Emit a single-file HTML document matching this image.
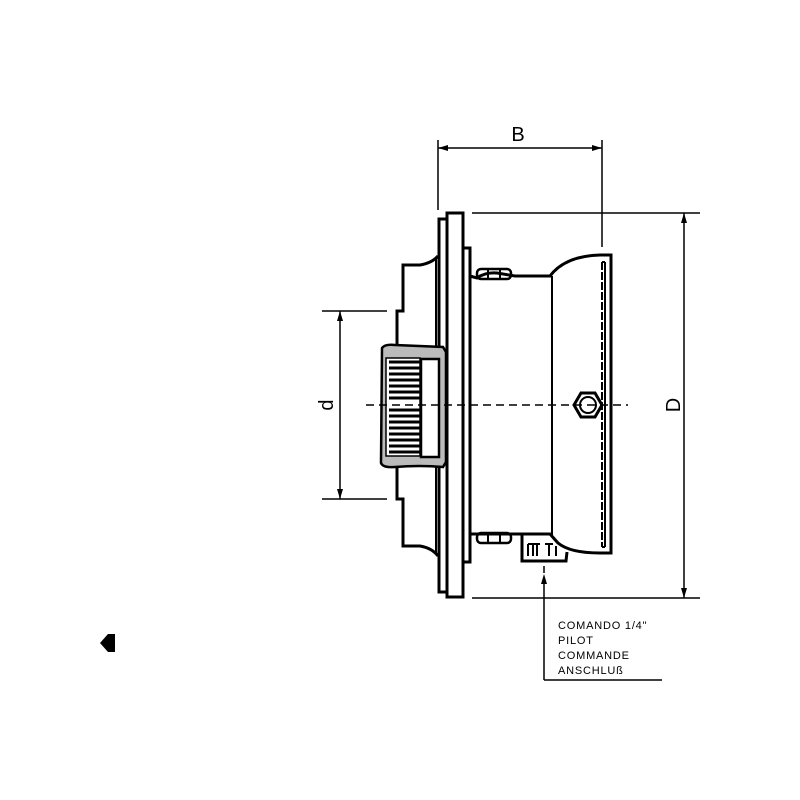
<!DOCTYPE html>
<html><head><style>html,body{margin:0;padding:0;background:#fff}svg{display:block}</style></head>
<body>
<svg width="800" height="800" viewBox="0 0 800 800" xmlns="http://www.w3.org/2000/svg" font-family="Liberation Sans, sans-serif">
<g fill="none" stroke="#000" stroke-width="3">
<rect x="447" y="213" width="16" height="384" fill="#fff"/>
<path d="M446 219 H439 V592 H446"/>
<path d="M463 248 H470 V562 H463"/>
<path d="M438 256 Q432 263 420 265 H403 V311 H397 V345"/>
<path d="M438 556 Q432 548 420 546 H403 V499 H397 V467"/>
<line x1="436" y1="258" x2="436" y2="553" stroke-width="2"/>
<path d="M470 276 L477 278 Q485 272 497 273 L515 276 L550 276 Q565 256 600 255 H611 V553 H600 Q570 553 558 543 L550 534 L520 534 L470 534" />
<line x1="552" y1="276" x2="552" y2="535" stroke-width="2"/>
<line x1="602" y1="262" x2="602" y2="547" stroke-width="2" stroke-dasharray="8 2"/>
<line x1="605" y1="262" x2="605" y2="547" stroke-width="2"/>
<path d="M602 262 H605 M602 547 H605" stroke-width="2"/>
<rect x="477" y="269" width="34" height="10" rx="4" stroke-width="2.5"/>
<line x1="488" y1="269" x2="488" y2="279" stroke-width="2"/><line x1="500" y1="269" x2="500" y2="279" stroke-width="2"/>
<rect x="477" y="533" width="34" height="10" rx="4" stroke-width="2.5"/>
<line x1="488" y1="533" x2="488" y2="543" stroke-width="2"/><line x1="500" y1="533" x2="500" y2="543" stroke-width="2"/>
<path d="M522 534 V561 H566 L567 552" stroke-width="3"/>
<path d="M528 544 V556 M533 544 V556 M528 544 H540 M537 544 V556 M545 544 H553 M549 544 V556 M556 546 V556" stroke-width="2"/>
</g>
<path d="M382 348 Q385 344 395 345 Q420 346 443 347 L446 352 V462 L443 467 Q420 465 395 467 Q383 468 381 463 Z" fill="#bbb" stroke="#000" stroke-width="2.5"/>
<rect x="386" y="358" width="34" height="98" fill="#fff" stroke="#000" stroke-width="1.5"/>
<g stroke="#000" stroke-width="3">
<line x1="389" y1="362" x2="420" y2="362"/><line x1="389" y1="368" x2="420" y2="368"/><line x1="389" y1="374" x2="420" y2="374"/><line x1="389" y1="380" x2="420" y2="380"/><line x1="389" y1="386" x2="420" y2="386"/><line x1="389" y1="392" x2="420" y2="392"/><line x1="389" y1="398" x2="420" y2="398"/><line x1="389" y1="410" x2="420" y2="410"/><line x1="389" y1="416" x2="420" y2="416"/><line x1="389" y1="422" x2="420" y2="422"/><line x1="389" y1="428" x2="420" y2="428"/><line x1="389" y1="434" x2="420" y2="434"/><line x1="389" y1="440" x2="420" y2="440"/><line x1="389" y1="446" x2="420" y2="446"/><line x1="389" y1="452" x2="420" y2="452"/>
</g>
<rect x="421" y="359" width="18" height="98" fill="#fff" stroke="#000" stroke-width="2.5"/>
<polygon points="581,393 595,393 602,405 595,417 581,417 574,405" fill="#fff" stroke="#000" stroke-width="3"/>
<circle cx="588" cy="405" r="8" fill="#fff" stroke="#000" stroke-width="2"/>
<line x1="366" y1="405" x2="628" y2="405" stroke="#000" stroke-width="1.5" stroke-dasharray="8 5"/>
<g stroke="#000" stroke-width="1.5" fill="none">
<line x1="438" y1="140" x2="438" y2="210"/>
<line x1="602" y1="140" x2="602" y2="247"/>
<line x1="438" y1="148" x2="602" y2="148"/>
<line x1="472" y1="213" x2="700" y2="213"/>
<line x1="472" y1="598" x2="700" y2="598"/>
<line x1="684" y1="213" x2="684" y2="598"/>
<line x1="322" y1="311" x2="387" y2="311"/>
<line x1="322" y1="499" x2="387" y2="499"/>
<line x1="340" y1="311" x2="340" y2="499"/>
<line x1="544" y1="566" x2="544" y2="573"/>
<line x1="544" y1="582" x2="544" y2="680"/>
<line x1="544" y1="680" x2="662" y2="680"/>
</g>
<g fill="#000">
<polygon points="438,148 448,145 448,151"/><polygon points="602,148 592,145 592,151"/>
<polygon points="684,213 681,223 687,223"/><polygon points="684,598 681,588 687,588"/>
<polygon points="340,311 337,321 343,321"/><polygon points="340,499 337,489 343,489"/>
<polygon points="544,574 541,584 547,584"/>
<polygon points="100,643 108,634 115,634 115,652 108,652"/>
</g>
<text x="518" y="141" font-size="20" text-anchor="middle">B</text>
<text transform="translate(680,405) rotate(-90)" font-size="20" text-anchor="middle">D</text>
<text transform="translate(333,405) rotate(-90)" font-size="20" text-anchor="middle">d</text>
<g font-size="11" fill="#000" letter-spacing="0.8">
<text x="558" y="629">COMANDO 1/4"</text>
<text x="558" y="644">PILOT</text>
<text x="558" y="659">COMMANDE</text>
<text x="558" y="674">ANSCHLUß</text>
</g>
</svg>
</body></html>
